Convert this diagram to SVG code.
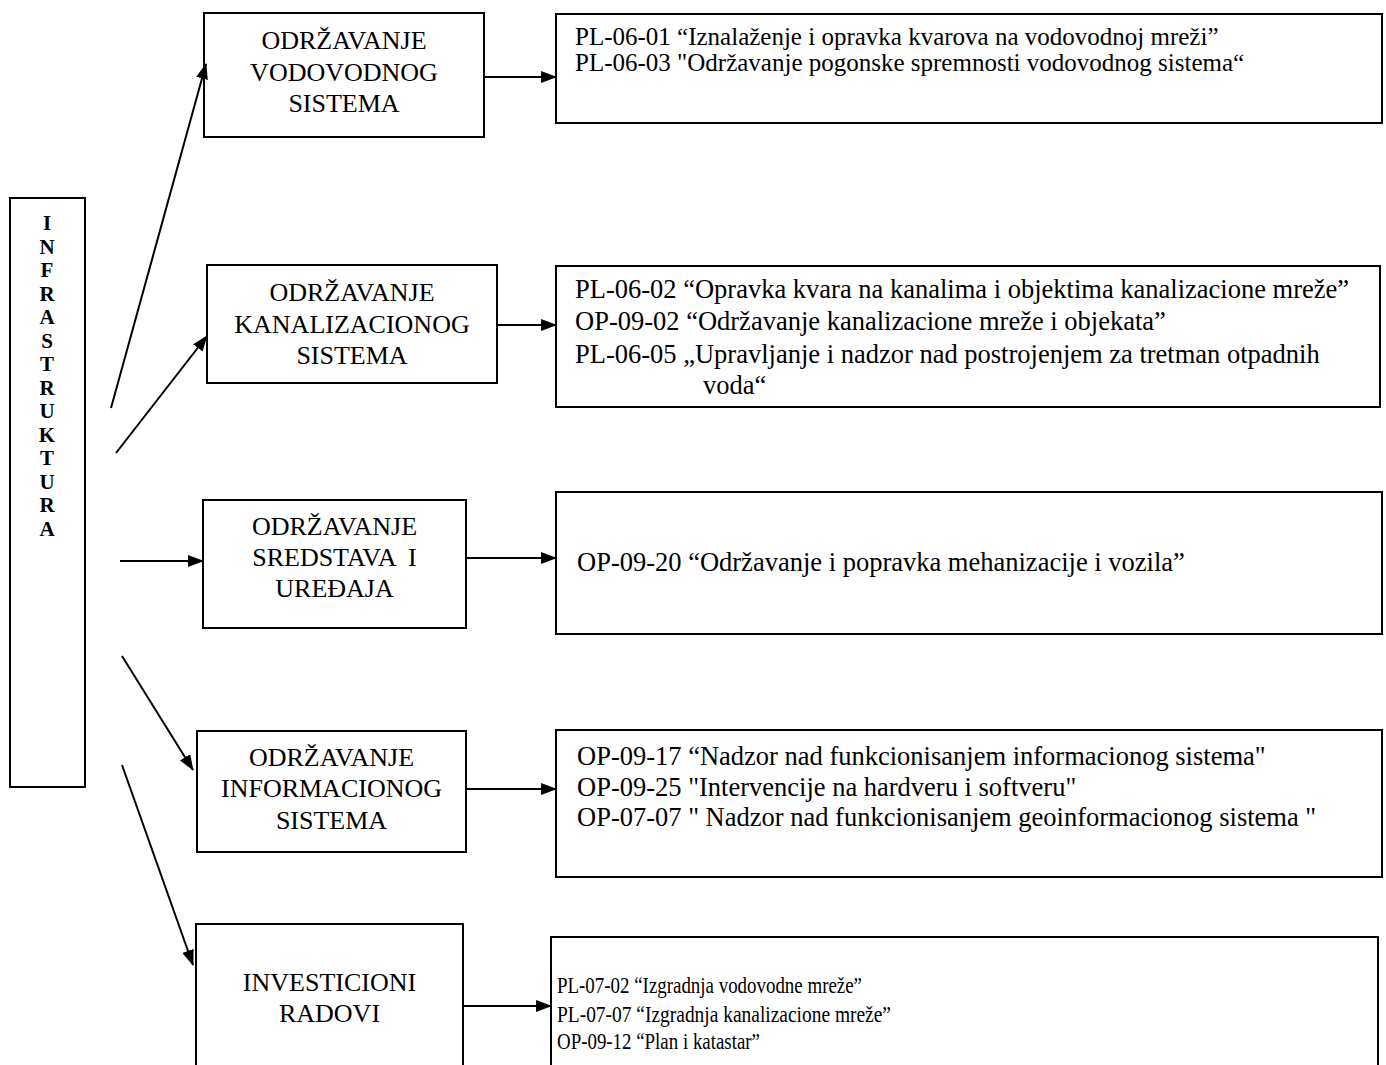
<svg xmlns="http://www.w3.org/2000/svg" width="1386" height="1065" viewBox="0 0 1386 1065">
<style>
.box{fill:#fff;stroke:#000;stroke-width:2}
.mid{font-family:"Liberation Serif","Times New Roman",serif;font-size:26px;text-anchor:middle;fill:#000;white-space:pre}
.txt{font-family:"Liberation Serif","Times New Roman",serif;font-size:26.5px;fill:#000}
.top{font-family:"Liberation Serif","Times New Roman",serif;font-size:25px;fill:#000}
.small{font-family:"Liberation Serif","Times New Roman",serif;font-size:24px;fill:#000}
.vert{font-family:"Liberation Serif","Times New Roman",serif;font-size:21px;font-weight:bold;text-anchor:middle;fill:#000}
.conn{stroke:#000;stroke-width:2;fill:none;marker-end:url(#ah)}
</style>
<defs>
<marker id="ah" markerUnits="userSpaceOnUse" markerWidth="16" markerHeight="12" refX="15" refY="6" orient="auto">
<path d="M0,0 L16,6 L0,12 Z" fill="#000"/>
</marker>
</defs>
<rect width="1386" height="1065" fill="#fff"/>

<g id="infrastruktura">
<rect class="box" x="10" y="198" width="75" height="589"/>
<text class="vert" x="47" y="230">I</text>
<text class="vert" x="47" y="254">N</text>
<text class="vert" x="47" y="277">F</text>
<text class="vert" x="47" y="301">R</text>
<text class="vert" x="47" y="324">A</text>
<text class="vert" x="47" y="348">S</text>
<text class="vert" x="47" y="371">T</text>
<text class="vert" x="47" y="395">R</text>
<text class="vert" x="47" y="418">U</text>
<text class="vert" x="47" y="442">K</text>
<text class="vert" x="47" y="465">T</text>
<text class="vert" x="47" y="489">U</text>
<text class="vert" x="47" y="512">R</text>
<text class="vert" x="47" y="536">A</text>
</g>

<g id="odrzavanje-vodovodnog">
<rect class="box" x="204" y="13" width="280" height="124"/>
<text class="mid" x="344" y="49">ODRŽAVANJE</text>
<text class="mid" x="344" y="81">VODOVODNOG</text>
<text class="mid" x="344" y="112">SISTEMA</text>
</g>

<g id="odrzavanje-kanalizacionog">
<rect class="box" x="207" y="265" width="290" height="118"/>
<text class="mid" x="352" y="301">ODRŽAVANJE</text>
<text class="mid" x="352" y="333">KANALIZACIONOG</text>
<text class="mid" x="352" y="364">SISTEMA</text>
</g>

<g id="odrzavanje-sredstava">
<rect class="box" x="203" y="500" width="263" height="128"/>
<text class="mid" x="334.5" y="535">ODRŽAVANJE</text>
<text class="mid" x="334.5" y="566">SREDSTAVA  I</text>
<text class="mid" x="334.5" y="597">UREĐAJA</text>
</g>

<g id="odrzavanje-informacionog">
<rect class="box" x="197" y="731" width="269" height="121"/>
<text class="mid" x="331.5" y="766">ODRŽAVANJE</text>
<text class="mid" x="331.5" y="797">INFORMACIONOG</text>
<text class="mid" x="331.5" y="829">SISTEMA</text>
</g>

<g id="investicioni-radovi">
<rect class="box" x="196" y="924" width="267" height="160"/>
<text class="mid" x="329.5" y="991">INVESTICIONI</text>
<text class="mid" x="329.5" y="1022">RADOVI</text>
</g>

<g id="procesi-vodovod">
<rect class="box" x="556" y="14" width="826" height="109"/>
<text class="top" x="575" y="45">PL-06-01 “Iznalaženje i opravka kvarova na vodovodnoj mreži”</text>
<text class="top" x="575" y="71">PL-06-03 "Održavanje pogonske spremnosti vodovodnog sistema“</text>
</g>

<g id="procesi-kanalizacija">
<rect class="box" x="556" y="266" width="824" height="141"/>
<text class="txt" x="575" y="298">PL-06-02 “Opravka kvara na kanalima i objektima kanalizacione mreže”</text>
<text class="txt" x="575" y="330">OP-09-02 “Održavanje kanalizacione mreže i objekata”</text>
<text class="txt" x="575" y="363">PL-06-05 „Upravljanje i nadzor nad postrojenjem za tretman otpadnih</text>
<text class="txt" x="703" y="394">voda“</text>
</g>

<g id="procesi-sredstva">
<rect class="box" x="556" y="492" width="826" height="142"/>
<text class="txt" x="577" y="571">OP-09-20 “Održavanje i popravka mehanizacije i vozila”</text>
</g>

<g id="procesi-informacioni">
<rect class="box" x="556" y="730" width="826" height="147"/>
<text class="txt" x="577" y="765">OP-09-17 “Nadzor nad funkcionisanjem informacionog sistema"</text>
<text class="txt" x="577" y="796">OP-09-25 "Intervencije na hardveru i softveru"</text>
<text class="txt" x="577" y="826">OP-07-07 " Nadzor nad funkcionisanjem geoinformacionog sistema "</text>
</g>

<g id="procesi-investicije">
<rect class="box" x="551" y="937" width="827" height="150"/>
<text class="small" x="557" y="993" textLength="305" lengthAdjust="spacingAndGlyphs">PL-07-02 “Izgradnja vodovodne mreže”</text>
<text class="small" x="557" y="1022" textLength="334" lengthAdjust="spacingAndGlyphs">PL-07-07 “Izgradnja kanalizacione mreže”</text>
<text class="small" x="557" y="1049" textLength="203" lengthAdjust="spacingAndGlyphs">OP-09-12 “Plan i katastar”</text>
</g>

<g id="connectors">
<line class="conn" x1="111" y1="408" x2="206" y2="64"/>
<line class="conn" x1="116" y1="453" x2="207" y2="336"/>
<line class="conn" x1="120" y1="561" x2="203" y2="561"/>
<line class="conn" x1="122" y1="656" x2="193" y2="770"/>
<line class="conn" x1="122" y1="765" x2="193" y2="965"/>
<line class="conn" x1="484" y1="77" x2="556" y2="77"/>
<line class="conn" x1="497" y1="325" x2="556" y2="325"/>
<line class="conn" x1="466" y1="558" x2="556" y2="558"/>
<line class="conn" x1="466" y1="789" x2="556" y2="789"/>
<line class="conn" x1="463" y1="1006" x2="551" y2="1006"/>
</g>
</svg>
